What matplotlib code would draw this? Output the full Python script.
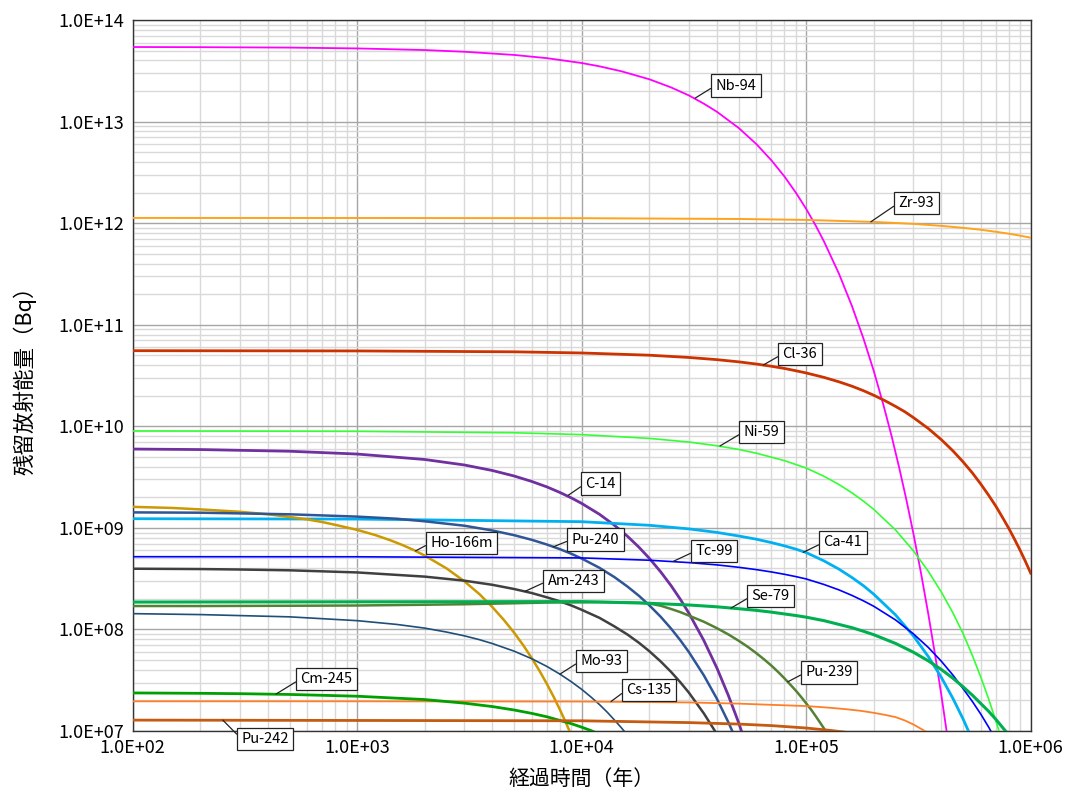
import matplotlib
matplotlib.use("Agg")
import matplotlib.pyplot as plt

plt.rcParams['font.family'] = ['Noto Sans CJK JP', 'DejaVu Sans']

# 経過時間 (年) と残留放射能量 (Bq) -- 図から読み取った値
nb94_t = [100, 200, 500, 1e3, 2e3, 3e3, 5e3, 7e3, 1e4, 1.2e4, 1.5e4, 2e4, 2.5e4, 3e4, 3.5e4, 4e4, 5e4, 6e4, 7e4, 8e4, 9e4,
          1e5, 1.1e5, 1.2e5, 1.4e5, 1.6e5, 1.8e5, 2e5, 2.2e5, 2.4e5, 2.6e5, 2.8e5, 3e5, 3.25e5, 3.5e5, 3.75e5, 4e5, 4.25e5]
nb94 = [5.42e13, 5.40e13, 5.35e13, 5.25e13, 5.06e13, 4.87e13, 4.53e13, 4.21e13, 3.77e13, 3.50e13, 3.13e13, 2.61e13,
        2.17e13, 1.81e13, 1.50e13, 1.25e13, 8.66e12, 6.00e12, 4.15e12, 2.88e12, 1.99e12, 1.38e12, 9.55e11, 6.61e11,
        3.17e11, 1.52e11, 7.29e10, 3.50e10, 1.67e10, 8.04e9, 3.85e9, 1.85e9, 8.87e8, 3.54e8, 1.41e8, 5.63e7, 2.25e7, 8.97e6]

zr93_t = [100, 1e3, 1e4, 5e4, 1e5, 2e5, 3e5, 4e5, 5e5, 6e5, 7e5, 8e5, 9e5, 1e6]
zr93 = [1.125e12, 1.124e12, 1.119e12, 1.099e12, 1.076e12, 1.028e12, 9.84e11, 9.40e11, 8.99e11, 8.61e11, 8.22e11, 7.87e11, 7.52e11, 7.19e11]

cl36_t = [100, 1e3, 5e3, 1e4, 2e4, 3e4, 4e4, 5e4, 6e4, 7e4, 8e4, 9e4, 1e5, 1.2e5, 1.4e5, 1.6e5, 1.8e5, 2e5, 2.25e5, 2.5e5,
          2.75e5, 3e5, 3.5e5, 4e5, 4.5e5, 5e5, 5.5e5, 6e5, 6.5e5, 7e5, 7.5e5, 8e5, 8.5e5, 9e5, 9.5e5, 1e6]
cl36 = [5.55e10, 5.52e10, 5.41e10, 5.27e10, 5.01e10, 4.76e10, 4.53e10, 4.31e10, 4.10e10, 3.90e10, 3.71e10, 3.52e10, 3.35e10,
        3.03e10, 2.74e10, 2.48e10, 2.24e10, 2.02e10, 1.78e10, 1.57e10, 1.39e10, 1.22e10, 9.50e9, 7.38e9, 5.74e9, 4.46e9,
        3.47e9, 2.69e9, 2.09e9, 1.63e9, 1.26e9, 9.82e8, 7.62e8, 5.93e8, 4.61e8, 3.58e8]

ni59_t = [100, 1e3, 5e3, 1e4, 2e4, 3e4, 4e4, 5e4, 6e4, 8e4, 1e5, 1.2e5, 1.4e5, 1.6e5, 1.8e5, 2e5, 2.5e5, 3e5, 3.5e5, 4e5,
          4.5e5, 5e5, 5.5e5, 6e5, 6.5e5, 7e5, 7.5e5]
ni59 = [9.00e9, 8.93e9, 8.63e9, 8.28e9, 7.60e9, 7.00e9, 6.43e9, 5.92e9, 5.43e9, 4.59e9, 3.88e9, 3.22e9, 2.67e9, 2.21e9,
        1.83e9, 1.52e9, 9.53e8, 5.96e8, 3.73e8, 2.33e8, 1.46e8, 9.08e7, 5.53e7, 3.37e7, 2.06e7, 1.25e7, 7.64e6]

c14_t = [100, 200, 500, 1e3, 2e3, 3e3, 4e3, 5e3, 6e3, 7e3, 8e3, 9e3, 1e4, 1.2e4, 1.4e4, 1.6e4, 1.8e4, 2e4, 2.25e4, 2.5e4,
         2.75e4, 3e4, 3.5e4, 4e4, 4.5e4, 5e4, 5.5e4]
c14 = [5.97e9, 5.90e9, 5.68e9, 5.33e9, 4.71e9, 4.16e9, 3.67e9, 3.24e9, 2.86e9, 2.53e9, 2.23e9, 1.97e9, 1.74e9, 1.36e9,
       1.06e9, 8.26e8, 6.44e8, 5.02e8, 3.68e8, 2.70e8, 1.98e8, 1.45e8, 7.78e7, 4.18e7, 2.24e7, 1.21e7, 6.47e6]

ho166m_t = [100, 150, 200, 300, 400, 500, 600, 700, 800, 1000, 1200, 1400, 1600, 1800, 2000, 2500, 3000, 3500, 4000,
            4500, 5000, 5500, 6000, 6500, 7000, 7500, 8000, 8500, 9000]
ho166m = [1.61e9, 1.57e9, 1.52e9, 1.44e9, 1.36e9, 1.28e9, 1.21e9, 1.14e9, 1.07e9, 9.55e8, 8.51e8, 7.57e8, 6.74e8, 6.00e8,
          5.33e8, 3.99e8, 2.98e8, 2.23e8, 1.66e8, 1.24e8, 9.29e7, 6.95e7, 5.19e7, 3.88e7, 2.90e7, 2.17e7, 1.62e7, 1.21e7, 9.04e6]

pu240_t = [100, 200, 500, 1e3, 1.5e3, 2e3, 3e3, 4e3, 5e3, 6e3, 7e3, 8e3, 9e3, 1e4, 1.2e4, 1.4e4, 1.6e4, 1.8e4, 2e4,
           2.25e4, 2.5e4, 2.75e4, 3e4, 3.5e4, 4e4, 4.5e4, 5e4]
pu240 = [1.42e9, 1.41e9, 1.36e9, 1.29e9, 1.23e9, 1.16e9, 1.05e9, 9.42e8, 8.47e8, 7.62e8, 6.85e8, 6.17e8, 5.55e8, 4.99e8,
         4.04e8, 3.27e8, 2.64e8, 2.14e8, 1.73e8, 1.33e8, 1.02e8, 7.82e7, 6.00e7, 3.53e7, 2.08e7, 1.22e7, 7.21e6]

ca41_t = [100, 1e3, 1e4, 2e4, 3e4, 4e4, 5e4, 6e4, 7e4, 8e4, 9e4, 1e5, 1.2e5, 1.4e5, 1.6e5, 1.8e5, 2e5, 2.5e5, 3e5, 3.5e5,
          4e5, 4.5e5, 5e5, 5.5e5]
ca41 = [1.23e9, 1.22e9, 1.15e9, 1.06e9, 9.77e8, 9.02e8, 8.32e8, 7.73e8, 7.16e8, 6.65e8, 6.17e8, 5.71e8, 4.73e8, 3.92e8,
        3.24e8, 2.69e8, 2.22e8, 1.39e8, 8.65e7, 5.40e7, 3.37e7, 2.10e7, 1.31e7, 8.17e6]

tc99_t = [100, 1e3, 1e4, 2e4, 3e4, 4e4, 5e4, 6e4, 7e4, 8e4, 9e4, 1e5, 1.2e5, 1.4e5, 1.6e5, 1.8e5, 2e5, 2.5e5, 3e5, 3.5e5,
          4e5, 4.5e5, 5e5, 5.5e5, 6e5, 6.5e5, 7e5]
tc99 = [5.20e8, 5.19e8, 5.06e8, 4.80e8, 4.55e8, 4.32e8, 4.09e8, 3.88e8, 3.68e8, 3.49e8, 3.31e8, 3.14e8, 2.77e8, 2.45e8,
        2.16e8, 1.91e8, 1.69e8, 1.24e8, 9.06e7, 6.64e7, 4.86e7, 3.56e7, 2.61e7, 1.95e7, 1.46e7, 1.09e7, 8.1e6]

am243_t = [100, 200, 300, 500, 1e3, 2e3, 3e3, 4e3, 5e3, 6e3, 7e3, 8e3, 9e3, 1e4, 1.2e4, 1.4e4, 1.6e4, 1.8e4, 2e4,
           2.25e4, 2.5e4, 2.75e4, 3e4, 3.5e4, 4e4]
am243 = [3.96e8, 3.93e8, 3.89e8, 3.82e8, 3.64e8, 3.31e8, 3.02e8, 2.75e8, 2.50e8, 2.28e8, 2.07e8, 1.89e8, 1.72e8, 1.56e8,
         1.30e8, 1.07e8, 8.90e7, 7.38e7, 6.11e7, 4.83e7, 3.82e7, 3.02e7, 2.39e7, 1.49e7, 9.33e6]

se79_t = [100, 1e3, 1e4, 2e4, 3e4, 4e4, 5e4, 6e4, 7e4, 8e4, 9e4, 1e5, 1.2e5, 1.4e5, 1.6e5, 1.8e5, 2e5, 2.5e5, 3e5, 3.5e5,
          4e5, 4.5e5, 5e5, 5.5e5, 6e5, 6.5e5, 7e5, 7.5e5, 8e5]
se79 = [1.86e8, 1.87e8, 1.88e8, 1.81e8, 1.74e8, 1.67e8, 1.60e8, 1.54e8, 1.48e8, 1.42e8, 1.37e8, 1.32e8, 1.22e8, 1.12e8,
        1.04e8, 9.59e7, 8.87e7, 7.28e7, 5.97e7, 4.90e7, 4.03e7, 3.31e7, 2.72e7, 2.25e7, 1.86e7, 1.56e7, 1.30e7, 1.08e7, 9.12e6]

pu239_t = [100, 200, 500, 1e3, 2e3, 3e3, 5e3, 7e3, 1e4, 1.2e4, 1.5e4, 1.8e4, 2e4, 2.25e4, 2.5e4, 2.75e4, 3e4, 3.5e4, 4e4,
           4.5e4, 5e4, 5.5e4, 6e4, 6.5e4, 7e4, 7.5e4, 8e4, 8.5e4, 9e4, 9.5e4, 1e5, 1.05e5, 1.1e5, 1.15e5, 1.2e5, 1.25e5]
pu239 = [1.70e8, 1.70e8, 1.71e8, 1.72e8, 1.75e8, 1.77e8, 1.81e8, 1.84e8, 1.85e8, 1.86e8, 1.85e8, 1.83e8, 1.80e8, 1.71e8,
         1.59e8, 1.48e8, 1.37e8, 1.19e8, 1.03e8, 8.93e7, 7.74e7, 6.73e7, 5.83e7, 5.06e7, 4.40e7, 3.81e7, 3.30e7, 2.86e7,
         2.49e7, 2.16e7, 1.87e7, 1.63e7, 1.41e7, 1.22e7, 1.06e7, 9.20e6]

mo93_t = [100, 200, 500, 1e3, 1.5e3, 2e3, 2.5e3, 3e3, 3.5e3, 4e3, 5e3, 6e3, 7e3, 8e3, 9e3, 1e4, 1.1e4, 1.2e4, 1.3e4, 1.4e4,
          1.5e4, 1.6e4]
mo93 = [1.43e8, 1.40e8, 1.33e8, 1.22e8, 1.12e8, 1.03e8, 9.42e7, 8.65e7, 7.93e7, 7.26e7, 6.11e7, 5.14e7, 4.32e7, 3.63e7,
        3.05e7, 2.57e7, 2.16e7, 1.82e7, 1.53e7, 1.28e7, 1.08e7, 9.08e6]

cm245_t = [100, 200, 300, 500, 1e3, 2e3, 3e3, 4e3, 5e3, 6e3, 7e3, 8e3, 9e3, 1e4, 1.1e4, 1.2e4]
cm245 = [2.37e7, 2.35e7, 2.33e7, 2.29e7, 2.20e7, 2.04e7, 1.88e7, 1.74e7, 1.61e7, 1.49e7, 1.38e7, 1.27e7, 1.18e7, 1.09e7,
         1.01e7, 9.31e6]

cs135_t = [100, 1e3, 1e4, 3e4, 5e4, 7e4, 1e5, 1.25e5, 1.5e5, 1.75e5, 2e5, 2.25e5, 2.5e5, 2.75e5, 3e5, 3.25e5, 3.5e5]
cs135 = [1.96e7, 1.96e7, 1.95e7, 1.91e7, 1.86e7, 1.81e7, 1.76e7, 1.70e7, 1.64e7, 1.58e7, 1.51e7, 1.44e7, 1.37e7, 1.27e7,
         1.16e7, 1.05e7, 9.55e6]

pu242_t = [100, 1e4, 3e4, 5e4, 7e4, 1e5, 1.3e5, 1.6e5]
pu242 = [1.28e7, 1.26e7, 1.21e7, 1.17e7, 1.13e7, 1.07e7, 1.01e7, 9.55e6]

x_ticks = [1e2, 1e3, 1e4, 1e5, 1e6]
x_ticklabels = ["1.0E+02", "1.0E+03", "1.0E+04", "1.0E+05", "1.0E+06"]
y_ticks = [1e7, 1e8, 1e9, 1e10, 1e11, 1e12, 1e13, 1e14]
y_ticklabels = ["1.0E+07", "1.0E+08", "1.0E+09", "1.0E+10", "1.0E+11", "1.0E+12", "1.0E+13", "1.0E+14"]

# name, t, A, color, linewidth, leader point on curve (t, A), label box left / middle in pixels (from top)
series = [
    ("Nb-94", nb94_t, nb94, "#FF00FF", 1.3, (3.2e4, 1.7e13), (711, 85.5)),
    ("Zr-93", zr93_t, zr93, "#FFA31A", 1.4, (1.94e5, 1.03e12), (894, 203)),
    ("Cl-36", cl36_t, cl36, "#CC3300", 2.0, (6.44e4, 4.01e10), (778, 354)),
    ("Ni-59", ni59_t, ni59, "#33FF33", 1.2, (4.13e4, 6.4e9), (739, 432)),
    ("C-14", c14_t, c14, "#7030A0", 2.0, (8.7e3, 2.09e9), (581, 483.5)),
    ("Ca-41", ca41_t, ca41, "#00B0F0", 2.0, (9.7e4, 5.74e8), (819, 542.5)),
    ("Ho-166m", ho166m_t, ho166m, "#CC9900", 1.8, (1.82e3, 5.93e8), (426, 543)),
    ("Pu-240", pu240_t, pu240, "#2F5597", 1.8, (7.47e3, 6.5e8), (567, 539.5)),
    ("Tc-99", tc99_t, tc99, "#0000FF", 1.2, (2.56e4, 4.68e8), (691, 551)),
    ("Am-243", am243_t, am243, "#404040", 1.8, (5.59e3, 2.37e8), (543, 581)),
    ("Pu-239", pu239_t, pu239, "#548235", 1.8, (8.28e4, 3.05e7), (801, 672.5)),
    ("Se-79", se79_t, se79, "#00B050", 2.2, (4.62e4, 1.62e8), (747, 596)),
    ("Mo-93", mo93_t, mo93, "#1F4E79", 1.2, (8.0e3, 3.63e7), (576, 661)),
    ("Cs-135", cs135_t, cs135, "#FF7F27", 1.3, (1.35e4, 1.95e7), (622, 690)),
    ("Cm-245", cm245_t, cm245, "#00A000", 2.0, (435, 2.31e7), (296, 679)),
    ("Pu-242", pu242_t, pu242, "#C55A11", 2.0, (252, 1.28e7), (237, 739)),
]

W, H = 1065, 794
fig = plt.figure(figsize=(W / 100, H / 100), dpi=100)
ax = fig.add_axes([132.7 / W, 1 - 731 / H, 898 / W, 711 / H])
ax.set_xscale("log")
ax.set_yscale("log")
ax.set_xlim(1e2, 1e6)
ax.set_ylim(1e7, 1e14)

ax.grid(True, which="minor", color="#D9D9D9", lw=1.0)
ax.grid(True, which="major", color="#A6A6A6", lw=1.0)
ax.set_axisbelow(True)

for name, t, a, color, lw, _, _ in series:
    ax.plot(t, a, color=color, lw=lw, solid_joinstyle="round", zorder=3)

for name, t, a, color, lw, xy, box in series:
    ax.annotate(name, xy=xy, xycoords="data",
                xytext=(box[0] + 4.5, H - box[1]), textcoords="figure pixels",
                ha="left", va="center", fontsize=10.5, annotation_clip=False,
                bbox=dict(boxstyle="square,pad=0.3", fc="white", ec="#222222", lw=0.9),
                arrowprops=dict(arrowstyle="-", color="#222222", lw=0.9,
                                relpos=(0, 0.5), shrinkA=0, shrinkB=0),
                zorder=5)

ax.set_xticks(x_ticks)
ax.set_xticklabels(x_ticklabels)
ax.set_yticks(y_ticks)
ax.set_yticklabels(y_ticklabels)
ax.tick_params(which="both", length=0, labelsize=13, pad=6)
for s in ax.spines.values():
    s.set_color("#333333")
    s.set_linewidth(1.0)

ax.set_xlabel("経過時間（年）", fontsize=15, labelpad=8)
ax.set_ylabel("残留放射能量（Bq）", fontsize=15.5, labelpad=16)

fig.savefig("out.png", dpi=100)
